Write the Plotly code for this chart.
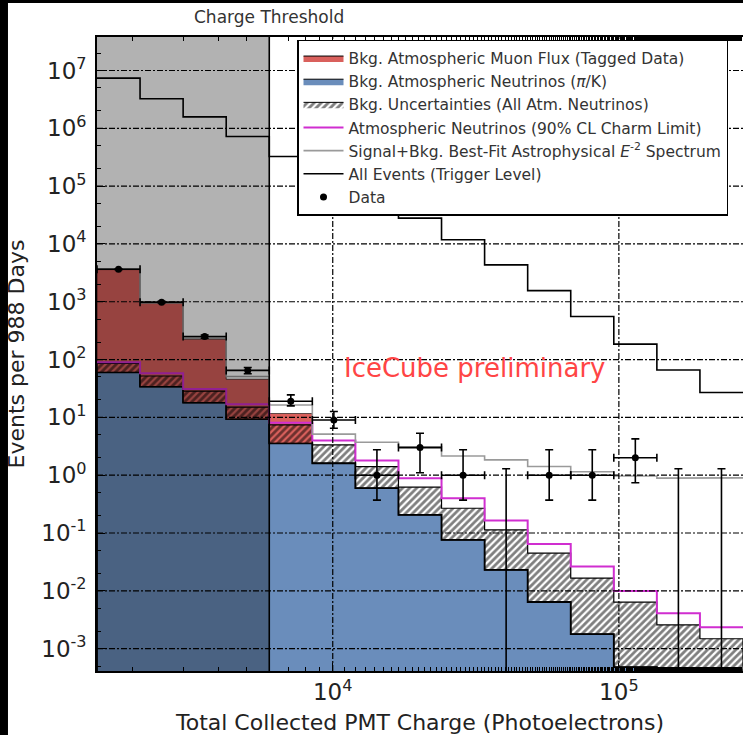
import numpy as np
import plotly.graph_objects as go

# Charge bins (total collected PMT charge, photoelectrons)
bin_edges = [1500, 2121, 3000, 4243, 6000, 8485, 12000, 16971, 24000,
             33941, 48000, 67882, 96000, 135765, 192000, 271529]
charge_threshold = 6000

# Expected / observed events per 988 days in each bin
all_events = [7.4e6, 3.24e6, 1.58e6, 7.2e5, 3.25e5, 1.4e5, 6.3e4, 2.8e4,
              1.18e4, 4.35e3, 1.56e3, 555, 185, 66, 26.9]
atm_nu_pik = [60, 34, 18, 9.3, 3.57, 1.61, 0.595, 0.206, 0.076, 0.023,
              0.0064, 0.00178, 0.00048, 0.00015, 0.00005]
atm_nu_unc_hi = [86, 52, 28.5, 15, 7.4, 3.34, 1.41, 0.62, 0.268, 0.113,
                 0.0447, 0.0166, 0.00635, 0.00257, 0.00148]
muon_flux = [3540, 912, 207, 36.3, 8.1]          # first five bins only
charm_limit = [90, 58, 31, 16.8, 8.1, 3.98, 1.79, 0.887, 0.40, 0.164,
               0.0646, 0.0263, 0.0099, 0.0041, 0.00234]
signal_bkg = [3700, 960, 235, 51, 16.4, 5.13, 3.72, 3.1, 2.15, 1.84,
              1.41, 1.15, 0.97, 0.89, 0.9]
data_counts = [3660, 985, 250, 65, 19, 9, 1, 3, 1, 0, 1, 1, 2, 0, 0]
data_lo = [3600, 954, 234, 57, 15.8, 6.5, 0.37, 1.10, 0.37, 0, 0.37, 0.37, 0.74, 0, 0]
data_hi = [3720, 1016, 266, 73, 24.5, 12.6, 2.75, 5.30, 2.75, 1.29, 2.75, 2.75, 4.25, 1.29, 1.29]

# Axis tick labels
y_tick_exps = [-3, -2, -1, 0, 1, 2, 3, 4, 5, 6, 7]
x_tick_exps = [4, 5]

FLOOR = 1e-6
FONT = "DejaVu Sans"
BLUE = "#6a8dbb"
RED = "#d9605c"
MAGENTA = "#d02ed0"
HATCH = dict(shape="/", fgcolor="black", bgcolor="rgba(0,0,0,0)",
             size=5, solidity=0.55)

edges = np.array(bin_edges, dtype=float)


def step_path(vals):
    xs, ys = [], []
    for i, v in enumerate(vals):
        xs += [edges[i], edges[i + 1]]
        ys += [v, v]
    return xs, ys


def band_polygon(lower, upper):
    xu, yu = step_path(upper)
    xl, yl = step_path(lower)
    return xu + xl[::-1] + [xu[0]], yu + yl[::-1] + [yu[0]]


fig = go.Figure()

# atmospheric neutrinos (pi/K), filled from the bottom
bx, by = band_polygon([FLOOR] * len(atm_nu_pik), atm_nu_pik)
fig.add_trace(go.Scatter(
    x=bx, y=by, mode="lines", fill="toself", fillcolor=BLUE,
    line=dict(color="black", width=1.8), showlegend=False, hoverinfo="skip"))

# atmospheric muons stacked on the neutrinos
n_mu = len(muon_flux)
mu_top = [atm_nu_pik[i] + muon_flux[i] for i in range(n_mu)]
rx, ry = band_polygon(atm_nu_pik[:n_mu], mu_top)
fig.add_trace(go.Scatter(
    x=rx, y=ry, mode="lines", fill="toself", fillcolor=RED,
    line=dict(color="black", width=0.6), showlegend=False, hoverinfo="skip"))

# neutrino background uncertainty band
hx, hy = band_polygon(atm_nu_pik, atm_nu_unc_hi)
fig.add_trace(go.Scatter(
    x=hx, y=hy, mode="lines", fill="toself", fillcolor="rgba(0,0,0,0)",
    fillpattern=HATCH, line=dict(color="black", width=1.2),
    showlegend=False, hoverinfo="skip"))

# legend swatches for the filled components
for name, fcol, pat, rank in [
        ("Bkg. Atmospheric Muon Flux (Tagged Data)", RED, None, 1),
        ("Bkg. Atmospheric Neutrinos (<i>π</i>/K)", BLUE, None, 2),
        ("Bkg. Uncertainties (All Atm. Neutrinos)", "rgba(0,0,0,0)", HATCH, 3)]:
    kw = dict(fillpattern=pat) if pat else {}
    fig.add_trace(go.Scatter(x=[None, None, None], y=[None, None, None],
                             mode="lines", fill="toself", fillcolor=fcol,
                             line=dict(color="black", width=1),
                             name=name, legendrank=rank, **kw))

# step lines
cx, cy = step_path(charm_limit)
fig.add_trace(go.Scatter(x=cx, y=cy, mode="lines",
                         line=dict(color=MAGENTA, width=2),
                         name="Atmospheric Neutrinos (90% CL Charm Limit)",
                         legendrank=4))
sx, sy = step_path(signal_bkg)
fig.add_trace(go.Scatter(x=sx, y=sy, mode="lines",
                         line=dict(color="#9a9a9a", width=1.6),
                         name="Signal+Bkg. Best-Fit Astrophysical <i>E</i><sup>-2</sup> Spectrum",
                         legendrank=5))
ax_, ay_ = step_path(all_events)
fig.add_trace(go.Scatter(x=ax_, y=ay_, mode="lines",
                         line=dict(color="black", width=1.6),
                         name="All Events (Trigger Level)", legendrank=6))

# data points
centers = np.sqrt(edges[:-1] * edges[1:])
idx = [i for i, n in enumerate(data_counts) if n > 0]
zero = [i for i, n in enumerate(data_counts) if n == 0]
fig.add_trace(go.Scatter(
    x=[centers[i] for i in idx], y=[data_counts[i] for i in idx],
    mode="markers", marker=dict(color="black", size=7),
    error_x=dict(type="data", symmetric=False,
                 array=[edges[i + 1] - centers[i] for i in idx],
                 arrayminus=[centers[i] - edges[i] for i in idx],
                 color="black", thickness=1.6, width=4),
    error_y=dict(type="data", symmetric=False,
                 array=[data_hi[i] - data_counts[i] for i in idx],
                 arrayminus=[data_counts[i] - data_lo[i] for i in idx],
                 color="black", thickness=1.6, width=4),
    name="Data", legendrank=7))
# empty bins: upper limits only
fig.add_trace(go.Scatter(
    x=[centers[i] for i in zero], y=[data_hi[i] for i in zero],
    mode="markers", marker=dict(color="rgba(0,0,0,0)", size=1),
    error_y=dict(type="data", symmetric=False,
                 array=[0] * len(zero),
                 arrayminus=[data_hi[i] - FLOOR for i in zero],
                 color="black", thickness=1.6, width=4),
    showlegend=False, hoverinfo="skip"))

shapes = []
# darkened region below the charge threshold
shapes.append(dict(type="rect", xref="x", yref="paper", x0=bin_edges[0],
                   x1=charge_threshold, y0=0, y1=1,
                   fillcolor="rgba(0,0,0,0.3)", line=dict(width=0), layer="above"))
# dash-dot grid at each decade
grid_line = dict(color="black", width=1.2, dash="6px,2px,2px,2px")
for k in y_tick_exps:
    shapes.append(dict(type="line", xref="paper", yref="y", x0=0, x1=1,
                       y0=10.0 ** k, y1=10.0 ** k, line=grid_line, layer="above"))
for k in x_tick_exps:
    shapes.append(dict(type="line", xref="x", yref="paper", x0=10.0 ** k,
                       x1=10.0 ** k, y0=0, y1=1, line=grid_line, layer="above"))
shapes.append(dict(type="line", xref="x", yref="paper", x0=charge_threshold,
                   x1=charge_threshold, y0=0, y1=1,
                   line=dict(color="black", width=1.6), layer="above"))
# page frame (left and top bands)
shapes.append(dict(type="rect", xref="paper", yref="paper", x0=-0.1502, x1=-0.1378,
                   y0=-0.101, y1=1.0584, fillcolor="black", line=dict(width=0)))
shapes.append(dict(type="rect", xref="paper", yref="paper", x0=-0.1502, x1=1.0,
                   y0=1.0536, y1=1.0584, fillcolor="black", line=dict(width=0)))

axis_common = dict(
    type="log", ticks="inside", ticklen=8, tickwidth=1.2, tickcolor="black",
    showline=True, linecolor="black", linewidth=1.6, showgrid=False,
    zeroline=False, tickfont=dict(family=FONT, size=23, color="#222"),
    minor=dict(ticks="inside", ticklen=4, tickwidth=1, tickcolor="black",
               showgrid=False),
)

fig.update_layout(
    width=743, height=735,
    margin=dict(l=97, r=0, t=37, b=64),
    paper_bgcolor="white", plot_bgcolor="white",
    font=dict(family=FONT, color="#222"),
    xaxis=dict(axis_common, range=[np.log10(bin_edges[0]), np.log10(bin_edges[-1])],
               mirror="ticks",
               tickvals=[10.0 ** k for k in x_tick_exps],
               ticktext=[f"10<sup>{k}</sup>" for k in x_tick_exps],
               title=dict(text="Total Collected PMT Charge (Photoelectrons)",
                          font=dict(family=FONT, size=22, color="#222"))),
    yaxis=dict(axis_common, range=[np.log10(4.1e-4), np.log10(3.8e7)],
               tickvals=[10.0 ** k for k in y_tick_exps],
               ticktext=[f"10<sup>{k}</sup>" for k in y_tick_exps],
               ticklabelstandoff=4,
               title=dict(text="Events per 988 Days", standoff=11,
                          font=dict(family=FONT, size=22, color="#222"))),
    legend=dict(x=0.3096, y=0.9953, xanchor="left", yanchor="top",
                bgcolor="white", bordercolor="black", borderwidth=1.5,
                itemwidth=40, entrywidth=401, entrywidthmode="pixels",
                font=dict(family=FONT, size=15.5, color="#333")),
    shapes=shapes,
    annotations=[
        dict(text="Charge Threshold", xref="x", yref="paper",
             x=np.log10(charge_threshold), y=1.0315, showarrow=False,
             xanchor="center", yanchor="middle",
             font=dict(family=FONT, size=17, color="#333")),
        dict(text="IceCube preliminary", xref="paper", yref="paper",
             x=0.5836, y=0.478, showarrow=False, xanchor="center",
             yanchor="middle", font=dict(family=FONT, size=26, color="#ff4545")),
    ],
    showlegend=True,
)

fig.write_html("out.html")
